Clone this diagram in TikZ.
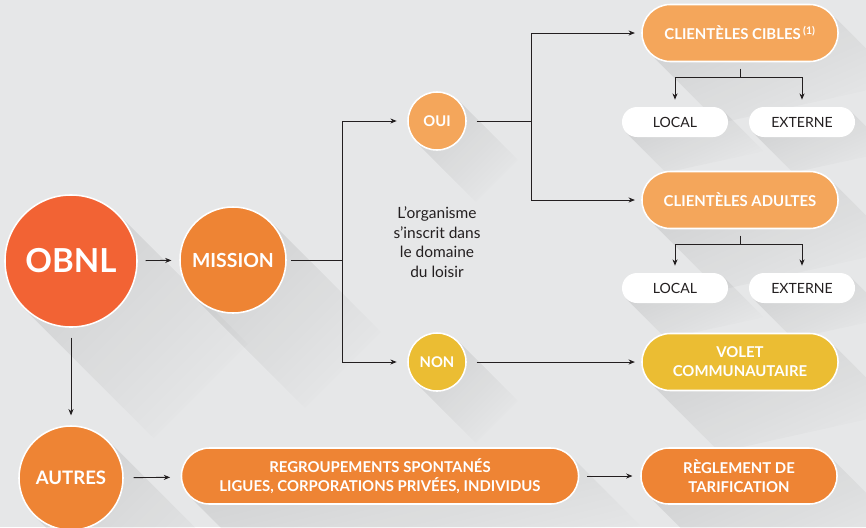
\documentclass[tikz,border=0pt]{standalone}
\usepackage{fontspec}
\setmainfont{Lato}
\usetikzlibrary{arrows.meta,backgrounds,calc,fadings}

\definecolor{bggray}{HTML}{E6E7E8}
\definecolor{redorange}{HTML}{F26334}
\definecolor{midorange}{HTML}{EE8434}
\definecolor{lightorange}{HTML}{F4A65B}
\definecolor{mustard}{HTML}{EBBD33}
\definecolor{inkblack}{HTML}{231F20}

\tikzfading[name=shadowfade, top color=transparent!0, middle color=transparent!70, bottom color=transparent!100]

\tikzset{
	bubble/.style={circle, draw=white, line width=1.1pt, text=white, inner sep=0pt},
	pill/.style={rectangle, rounded corners=#1, draw=white, line width=1.1pt, text=white, align=center, inner sep=0pt, font=\bfseries\fontsize{10.6}{13.6}\selectfont},
	tag/.style={rectangle, rounded corners=0.375cm, fill=white, minimum width=2.65cm, minimum height=0.75cm, inner sep=0pt, text=inkblack, font=\fontsize{10}{12}\selectfont},
	wire/.style={draw=inkblack, line width=0.65pt},
	link/.style={wire, -{Stealth[length=4.5pt,width=3.6pt]}},
	longshadow/.style={fill=black, fill opacity=0.09, path fading=shadowfade, fading angle=45},
}
% long shadows, lengths in px
\def\circshadow(#1:#2){\fill[longshadow] (#1.45) -- ($(#1.45)+(#2,#2)$) -- ($(#1.225)+(#2,#2)$) -- (#1.225) -- cycle;}
\def\pillshadow(#1:#2:#3){\fill[longshadow] ($(#1.east)+(-0.293*#2,-0.707*#2)$) -- ++(#3,#3) -- ($(#1.west)+(0.293*#2+#3,0.707*#2+#3)$) -- ($(#1.west)+(0.293*#2,0.707*#2)$) -- cycle;}

\begin{document}
\begin{tikzpicture}[x=0.025cm, y=-0.025cm]
	\useasboundingbox (0,0) rectangle (866,527);

	% circles
	\node[bubble, fill=redorange, minimum size=3.3cm, font=\bfseries\fontsize{23.5}{24}\selectfont] (obnl) at (71,261) {OBNL};
	\node[bubble, fill=midorange, minimum size=2.65cm, font=\bfseries\fontsize{13.8}{14}\selectfont] (mission) at (233,260) {MISSION};
	\node[bubble, fill=lightorange, minimum size=1.45cm, font=\bfseries\fontsize{10.5}{10}\selectfont] (oui) at (437,121) {OUI};
	\node[bubble, fill=mustard, minimum size=1.45cm, font=\bfseries\fontsize{10.5}{10}\selectfont] (non) at (437,362) {NON};
	\node[bubble, fill=midorange, minimum size=2.6cm, font=\bfseries\fontsize{13.2}{13}\selectfont] (autres) at (71,478) {AUTRES};

	% boxes
	\node[pill=0.71cm, fill=lightorange, minimum width=4.9cm, minimum height=1.425cm] (cibles) at (740,33) {CLIENTÈLES CIBLES\,\textsuperscript{(1)}};
	\node[pill=0.71cm, fill=lightorange, minimum width=4.9cm, minimum height=1.425cm] (adultes) at (740,200) {CLIENTÈLES ADULTES};
	\node[pill=0.71cm, fill=mustard, minimum width=4.9cm, minimum height=1.425cm] (volet) at (740,362) {VOLET\\COMMUNAUTAIRE};
	\node[pill=0.7cm, fill=midorange, minimum width=9.925cm, minimum height=1.4cm] (regroup) at (380,476) {REGROUPEMENTS SPONTANÉS\\LIGUES, CORPORATIONS PRIVÉES, INDIVIDUS};
	\node[pill=0.7cm, fill=midorange, minimum width=4.9cm, minimum height=1.4cm] (reglement) at (739,476) {RÈGLEMENT DE\\TARIFICATION};

	\node[tag] (local1) at (675,122) {LOCAL};
	\node[tag] (externe1) at (802,122) {EXTERNE};
	\node[tag] (local2) at (675,288) {LOCAL};
	\node[tag] (externe2) at (802,288) {EXTERNE};

	\node[align=center, text=inkblack, font=\fontsize{11}{13.9}\selectfont] (note) at (437,242) {L’organisme\\s’inscrit dans\\le domaine\\du loisir};

	% connectors
	\coordinate (msplit) at (342,260);
	\coordinate (osplit) at (531,121);
	\coordinate (cfork) at (740,77);
	\coordinate (afork) at (740,244);

	\draw[link, shorten <=5.5pt, shorten >=5.5pt] (obnl) -- (mission);
	\draw[link, shorten <=7pt, shorten >=7pt] (obnl) -- (autres);
	\draw[link, shorten <=7pt, shorten >=7.5pt] (autres) -- (regroup);
	\draw[link, shorten <=5.5pt, shorten >=5.5pt] (regroup) -- (reglement);

	\draw[wire, shorten <=3pt] (mission) -- (msplit);
	\draw[link, shorten >=7.5pt] (msplit) |- (oui);
	\draw[link, shorten >=7.5pt] (msplit) |- (non);
	\draw[link, shorten <=7pt, shorten >=4.5pt] (non) -- (volet);

	\draw[wire, shorten <=7pt] (oui) -- (osplit);
	\draw[link, shorten >=4.5pt] (osplit) |- (cibles);
	\draw[link, shorten >=4.5pt] (osplit) |- (adultes);

	\draw[wire, shorten <=4.5pt] (cibles) -- (cfork);
	\draw[link, shorten >=5pt] (cfork) -| (local1);
	\draw[link, shorten >=5pt] (cfork) -| (externe1);
	\draw[wire, shorten <=4.5pt] (adultes) -- (afork);
	\draw[link, shorten >=5pt] (afork) -| (local2);
	\draw[link, shorten >=5pt] (afork) -| (externe2);

	\begin{scope}[on background layer]
		\fill[bggray] (0,0) rectangle (866,527);
		\circshadow(obnl:130)
		\circshadow(mission:110)
		\circshadow(oui:60)
		\circshadow(non:60)
		\circshadow(autres:110)
		\pillshadow(cibles:28.5:70)
		\pillshadow(adultes:28.5:70)
		\pillshadow(volet:28.5:70)
		\pillshadow(regroup:28:70)
		\pillshadow(reglement:28:70)
		\pillshadow(local1:15:40)
		\pillshadow(externe1:15:40)
		\pillshadow(local2:15:40)
		\pillshadow(externe2:15:40)
	\end{scope}
\end{tikzpicture}
\end{document}
